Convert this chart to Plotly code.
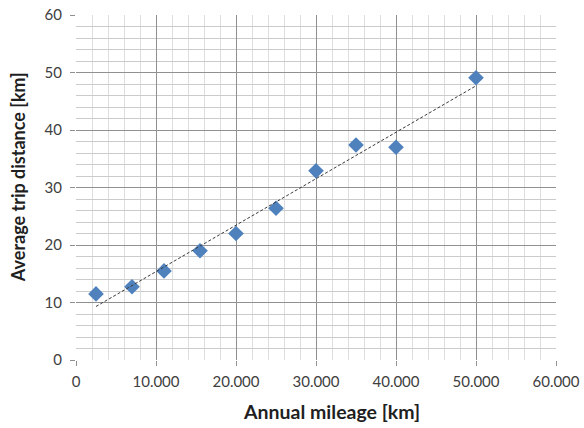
import numpy as np
import plotly.graph_objects as go

# Data
annual_mileage_km = [2500, 7000, 11000, 15500, 20000, 25000, 30000, 35000, 40000, 50000]
avg_trip_distance_km = [11.5, 12.75, 15.5, 19.0, 22.0, 26.4, 32.9, 37.4, 37.0, 49.1]

x_title = "Annual mileage [km]"
y_title = "Average trip distance [km]"

# Linear trendline (least squares), as in the spreadsheet chart
slope, intercept = np.polyfit(annual_mileage_km, avg_trip_distance_km, 1)
trend_x = [min(annual_mileage_km), max(annual_mileage_km)]
trend_y = [slope * v + intercept for v in trend_x]

FONT = "Lato, 'Open Sans', sans-serif"
MAJOR = "#909090"
TITLE_FONT = dict(size=18, color="#1f1f1f", family=FONT, weight="bold")

fig = go.Figure()
fig.add_trace(go.Scatter(
    x=annual_mileage_km, y=avg_trip_distance_km, mode="markers",
    marker=dict(symbol="diamond", size=12, color="#4F81BD",
                line=dict(width=0)),
    showlegend=False, hoverinfo="x+y",
))
fig.add_trace(go.Scatter(
    x=trend_x, y=trend_y, mode="lines",
    line=dict(color="#3a3a3a", width=1, dash="3px,2px"),
    showlegend=False, hoverinfo="skip",
))

fig.update_layout(
    width=584, height=428,
    margin=dict(l=76, r=28, t=15, b=68, autoexpand=False),
    paper_bgcolor="white", plot_bgcolor="white",
    separators=",.",
    font=dict(family=FONT, color="#404040", size=15),
    annotations=[
        dict(text=x_title, xref="paper", yref="paper", x=0.533, y=0,
             yshift=-51, xanchor="center", yanchor="middle", showarrow=False,
             font=dict(TITLE_FONT, size=19.5)),
        dict(text=y_title, xref="paper", yref="paper", x=0, y=0.53,
             xshift=-58, xanchor="center", yanchor="middle", showarrow=False,
             textangle=-90, font=TITLE_FONT),
    ],
)
fig.update_xaxes(
    range=[0, 60000], dtick=10000, tickformat=",d",
    showgrid=True, gridcolor=MAJOR, gridwidth=1,
    minor=dict(dtick=2000, showgrid=True, gridcolor="#dedede", gridwidth=1),
    ticks="outside", ticklen=5, tickcolor=MAJOR, ticklabelstandoff=3,
    zeroline=False, showline=False, automargin=False,
    tickfont=dict(size=15, color="#404040", family=FONT),
)
fig.update_yaxes(
    range=[0, 60], dtick=10,
    showgrid=True, gridcolor=MAJOR, gridwidth=1,
    minor=dict(dtick=2, showgrid=True, gridcolor="#cbcbcb", gridwidth=1),
    ticks="outside", ticklen=5, tickcolor=MAJOR, ticklabelstandoff=5,
    zeroline=False, showline=False, automargin=False,
    tickfont=dict(size=15, color="#404040", family=FONT),
)

fig.write_html("out.html", config={"displayModeBar": False},
               post_script="document.body.style.margin='0';")
